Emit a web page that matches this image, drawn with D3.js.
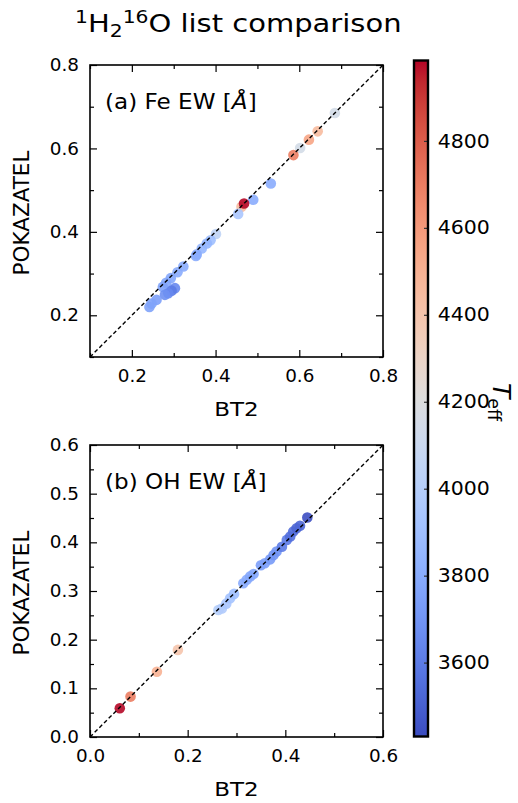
<!DOCTYPE html>
<html><head><meta charset="utf-8">
<script src="https://cdn.jsdelivr.net/npm/d3@7"></script>
<style>body{margin:0;background:#fff}text{font-family:"DejaVu Sans",sans-serif;fill:#000}</style>
</head><body>
<svg id="c" width="518" height="803"></svg>
<script>
// ---- data ----
const feBT2  = [0.685,0.644,0.623,0.602,0.586,0.532,0.490,0.462,0.468,0.454,0.401,0.388,0.379,0.367,0.355,0.353,0.323,0.309,0.293,0.282,0.274,0.303,0.295,0.287,0.279,0.259,0.247,0.242];
const fePOK  = [0.685,0.641,0.621,0.601,0.584,0.516,0.477,0.460,0.468,0.443,0.395,0.380,0.372,0.360,0.346,0.342,0.317,0.303,0.289,0.278,0.268,0.265,0.259,0.253,0.249,0.237,0.228,0.220];
const feTeff = [4150,4450,4550,4150,4700,3800,3800,4450,4980,3950,4050,3900,3850,3850,3800,3800,3800,3800,3780,3780,3760,3650,3600,3650,3680,3750,3760,3760];
const ohBT2  = [0.061,0.083,0.137,0.180,0.263,0.270,0.279,0.287,0.295,0.314,0.321,0.328,0.335,0.350,0.358,0.369,0.376,0.382,0.393,0.403,0.410,0.416,0.423,0.430,0.445];
const ohPOK  = [0.059,0.083,0.134,0.179,0.261,0.264,0.274,0.285,0.294,0.316,0.323,0.330,0.335,0.353,0.357,0.365,0.374,0.381,0.391,0.405,0.412,0.422,0.429,0.434,0.451];
const ohTeff = [4980,4700,4500,4400,4000,3980,3950,3920,3900,3800,3800,3780,3780,3750,3750,3720,3700,3700,3600,3600,3550,3550,3520,3520,3440];
const cbTicks = [3600,3800,4000,4200,4400,4600,4800];
const teffRange = [3430,4985];
const panelA = {label:"(a) Fe EW ", domain:[0.1,0.8], xMajor:[0.2,0.4,0.6,0.8], xMinor:[0.1,0.3,0.5,0.7], yMajor:[0.2,0.4,0.6,0.8], yMinor:[0.1,0.3,0.5,0.7]};
const panelB = {label:"(b) OH EW ", domain:[0,0.6], xMajor:[0,0.2,0.4,0.6], xMinor:[0.1,0.3,0.5], yMajor:[0,0.1,0.2,0.3,0.4,0.5,0.6], yMinor:[0.05,0.15,0.25,0.35,0.45,0.55]};
// coolwarm (Moreland) control points
const coolwarm = [[59,76,192],[68,90,204],[77,104,215],[87,117,225],[98,130,234],[108,142,241],[119,154,247],[130,165,251],[141,176,254],[152,185,255],[163,194,255],[174,201,253],[184,208,249],[194,213,244],[204,217,238],[213,219,230],[221,221,221],[229,216,209],[236,211,197],[241,204,184],[245,196,172],[247,187,159],[247,177,147],[247,166,134],[244,154,123],[241,141,111],[236,127,99],[229,112,88],[222,96,77],[213,80,66],[203,62,56],[192,40,47],[180,4,38]];

const svg = d3.select("#c");
const cmapT = d3.scaleLinear().domain(coolwarm.map((d,i)=>i/(coolwarm.length-1))).range(coolwarm.map(c=>`rgb(${c})`)).interpolate(d3.interpolateRgb).clamp(true);
const tNorm = d3.scaleLinear().domain(teffRange).range([0,1]).clamp(true);
const color = t => cmapT(tNorm(t));

// title
const title = svg.append("text").attr("transform","translate(75,32) scale(1.16,1)").style("font-size","25px");
title.append("tspan").text("1").style("font-size","17.5px").attr("dy",-9);
title.append("tspan").text("H").attr("dy",9);
title.append("tspan").text("2").style("font-size","17.5px").attr("dy",5);
title.append("tspan").text("16").style("font-size","17.5px").attr("dy",-14);
title.append("tspan").text("O list comparison").attr("dy",9);

function panel(p, bx, ys, teff, top, bottom){
  const L=90,R=383;
  const x = d3.scaleLinear().domain(p.domain).range([L,R]);
  const y = d3.scaleLinear().domain(p.domain).range([bottom,top]);
  const g = svg.append("g");
  const pts = bx.map((v,i)=>({x:v,y:ys[i],t:teff[i]}));
  g.selectAll("circle").data(pts).join("circle")
    .attr("cx",d=>x(d.x)).attr("cy",d=>y(d.y)).attr("r",5.3)
    .attr("fill",d=>color(d.t)).attr("fill-opacity",0.9);
  g.append("line").attr("x1",x(p.domain[0])).attr("y1",y(p.domain[0])).attr("x2",x(p.domain[1])).attr("y2",y(p.domain[1]))
    .attr("stroke","#000").attr("stroke-width",1.4).attr("stroke-dasharray","4,2.6");
  const fmt = d3.format(".1f");
  const ax = (axis, tr) => g.append("g").attr("transform",tr).call(axis).call(s=>s.select(".domain").remove());
  const style = s => { s.selectAll("line").attr("stroke","#000").attr("stroke-width",1.2); s.selectAll("text").style("font-size","17.5px").attr("font-family","DejaVu Sans"); };
  ax(d3.axisBottom(x).tickValues(p.xMajor).tickFormat(fmt).tickSizeInner(-7).tickPadding(13), `translate(0,${bottom})`).call(style)
    .selectAll("text").attr("transform","scale(1.05,1)");
  ax(d3.axisBottom(x).tickValues(p.xMinor).tickFormat("").tickSizeInner(-4), `translate(0,${bottom})`).call(style);
  ax(d3.axisTop(x).tickValues(p.xMajor).tickFormat("").tickSizeInner(-7), `translate(0,${top})`).call(style);
  ax(d3.axisTop(x).tickValues(p.xMinor).tickFormat("").tickSizeInner(-4), `translate(0,${top})`).call(style);
  ax(d3.axisLeft(y).tickValues(p.yMajor).tickFormat(fmt).tickSizeInner(-7).tickPadding(10.5), `translate(${L},0)`).call(style)
    .selectAll("text").attr("transform","scale(1.05,1)");
  ax(d3.axisLeft(y).tickValues(p.yMinor).tickFormat("").tickSizeInner(-4), `translate(${L},0)`).call(style);
  ax(d3.axisRight(y).tickValues(p.yMajor).tickFormat("").tickSizeInner(-7), `translate(${R},0)`).call(style);
  ax(d3.axisRight(y).tickValues(p.yMinor).tickFormat("").tickSizeInner(-4), `translate(${R},0)`).call(style);
  g.append("rect").attr("x",L).attr("y",top).attr("width",R-L).attr("height",bottom-top).attr("fill","none").attr("stroke","#000").attr("stroke-width",1.6);
  const t = g.append("text").attr("transform",`translate(105,${top+44}) scale(1.05,1)`).style("font-size","22px").text(p.label);
  t.append("tspan").text("[");
  t.append("tspan").text("Å").style("font-style","italic");
  t.append("tspan").text("]");
  g.append("text").attr("transform",`translate(${(L+R)/2},${bottom+59}) scale(1.15,1)`).attr("text-anchor","middle").style("font-size","20px").text("BT2");
  g.append("text").attr("transform",`translate(29,${(top+bottom)/2+2}) rotate(-90)`).attr("text-anchor","middle").style("font-size","21.5px").text("POKAZATEL");
}
panel(panelA, feBT2, fePOK, feTeff, 65, 357);
panel(panelB, ohBT2, ohPOK, ohTeff, 445, 737);

// colorbar
const cbX=414, cbW=14, cbTop=60.5, cbBot=736.5;
const cy = d3.scaleLinear().domain(teffRange).range([cbBot,cbTop]);
const grad = svg.append("defs").append("linearGradient").attr("id","cw").attr("x1",0).attr("y1",1).attr("x2",0).attr("y2",0);
coolwarm.forEach((c,i)=>grad.append("stop").attr("offset",i/(coolwarm.length-1)).attr("stop-color",`rgb(${c})`));
svg.append("rect").attr("x",cbX).attr("y",cbTop).attr("width",cbW).attr("height",cbBot-cbTop).attr("fill","url(#cw)");
const cbAxis = svg.append("g").attr("transform",`translate(${cbX+cbW},0)`).call(d3.axisRight(cy).tickValues(cbTicks).tickFormat(d3.format("d")).tickSizeInner(-4).tickPadding(9));
cbAxis.select(".domain").remove();
cbAxis.selectAll("line").attr("stroke","#333").attr("stroke-width",1.2);
cbAxis.selectAll("text").style("font-size","19px").attr("font-family","DejaVu Sans").attr("transform","scale(1.08,1)");
svg.append("rect").attr("x",cbX).attr("y",cbTop).attr("width",cbW).attr("height",cbBot-cbTop).attr("fill","none").attr("stroke","#000").attr("stroke-width",2.4);
const tl = svg.append("text").attr("transform","translate(493,402) rotate(90)").attr("text-anchor","middle").style("font-size","25px");
tl.append("tspan").text("T").style("font-style","italic");
tl.append("tspan").text("eff").style("font-size","17.5px").attr("dy",5);
</script>
</body></html>
